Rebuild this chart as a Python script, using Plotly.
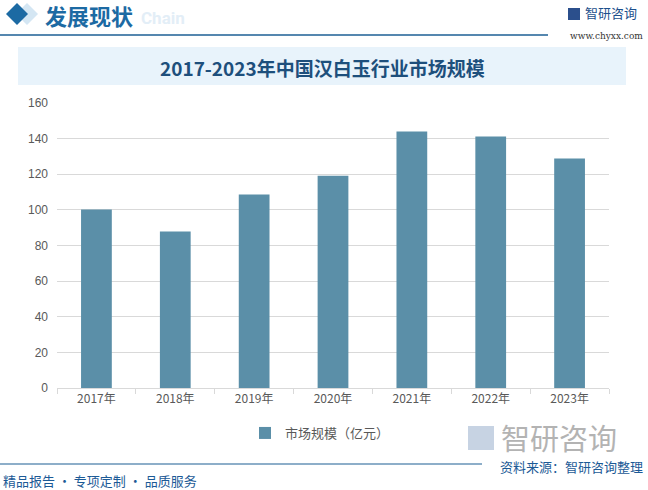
import plotly.graph_objects as go

years = ["2017年", "2018年", "2019年", "2020年", "2021年", "2022年", "2023年"]
market_size = [100.2, 87.8, 108.6, 119.2, 144.0, 141.2, 128.8]
y_ticks = [0, 20, 40, 60, 80, 100, 120, 140, 160]
series_name = "市场规模（亿元）"
title_text = "2017-2023年中国汉白玉行业市场规模"

W, H = 648, 490
L, R, T, B = 57, 39, 103, 102
PW, PH = W - L - R, H - T - B

def px(x):
    return (x - L) / PW

def py(y):
    return (H - B - y) / PH

fig = go.Figure()
fig.add_trace(go.Bar(
    x=years, y=market_size, name=series_name,
    marker=dict(color="#5b8fa8", line=dict(width=0)),
    width=0.39,
))

shapes = []
annotations = []

def diamond(cx, cy, r, color):
    return dict(type="path", xref="paper", yref="paper",
                path=f"M {px(cx-r)} {py(cy)} L {px(cx)} {py(cy-r)} L {px(cx+r)} {py(cy)} L {px(cx)} {py(cy+r)} Z",
                fillcolor=color, line=dict(width=0), layer="above")

shapes.append(diamond(27, 14, 11, "#d4e6f3"))
shapes.append(diamond(17, 14, 11, "#1c6aa3"))
shapes.append(dict(type="line", xref="paper", yref="paper", x0=px(0), x1=px(548), y0=py(35), y1=py(35),
                   line=dict(color="#1c5f94", width=1.5)))
shapes.append(dict(type="rect", xref="paper", yref="paper", x0=px(18), x1=px(626), y0=py(47), y1=py(85),
                   fillcolor="#e8f3fb", line=dict(width=0), layer="below"))
shapes.append(dict(type="line", xref="paper", yref="paper", x0=px(0), x1=px(482), y0=py(464), y1=py(464),
                   line=dict(color="#1c5f94", width=1.2)))
# top-right logo icon
shapes.append(dict(type="rect", xref="paper", yref="paper", x0=px(568), x1=px(580), y0=py(8), y1=py(20),
                   fillcolor="#2b4f8c", line=dict(width=0)))
# bottom-right watermark icon
shapes.append(dict(type="rect", xref="paper", yref="paper", x0=px(468), x1=px(494), y0=py(426), y1=py(450),
                   fillcolor="#c7d3e3", line=dict(width=0), layer="below"))

def text(x, y, s, size, color, family="Noto Sans CJK SC", xanchor="left", bold=False):
    annotations.append(dict(x=px(x), y=py(y), xref="paper", yref="paper", text=(f"<b>{s}</b>" if bold else s),
                            showarrow=False, xanchor=xanchor, yanchor="middle", borderpad=0,
                            font=dict(size=size, color=color, family=family)))

text(140, 18, "Chain", 17, "#e3eef7", family="Roboto", bold=True)
text(44, 15, "发展现状", 22, "#1c6aa3", bold=True)
text(584, 13, "智研咨询", 13, "#1c4f8c")
text(644, 36, "www.chyxx.com", 9, "#333333", family="DejaVu Serif", xanchor="right")
text(322, 67, title_text, 19, "#1d4f7c", xanchor="center", bold=True)
text(500, 437, "智研咨询", 29, "#b3b3b3")
text(644, 466, "资料来源：智研咨询整理", 13, "#1c5a96", xanchor="right")
text(2, 480, "精品报告 · 专项定制 · 品质服务", 13, "#1c5a96")

fig.update_layout(
    width=W, height=H,
    margin=dict(l=L, r=R, t=T, b=B, pad=0),
    paper_bgcolor="white", plot_bgcolor="white",
    showlegend=True,
    legend=dict(orientation="h", x=px(245), xanchor="left", y=py(433), yanchor="middle",
                font=dict(size=13, color="#595959", family="Noto Sans CJK SC"),
                itemwidth=30),
    shapes=shapes,
    annotations=annotations,
    xaxis=dict(showline=True, linecolor="#d9d9d9", linewidth=1, ticks="outside", tickson="boundaries",
               ticklen=5, tickcolor="#d9d9d9",
               tickfont=dict(size=12, color="#595959", family="Noto Sans CJK SC"), fixedrange=True),
    yaxis=dict(range=[0, 160], tickvals=y_ticks, showgrid=True, gridcolor="#d9d9d9", gridwidth=1,
               zeroline=False, showline=False, ticks="", ticklabelstandoff=8,
               tickfont=dict(size=12, color="#595959", family="Liberation Sans")),
)

fig.write_html("out.html")
